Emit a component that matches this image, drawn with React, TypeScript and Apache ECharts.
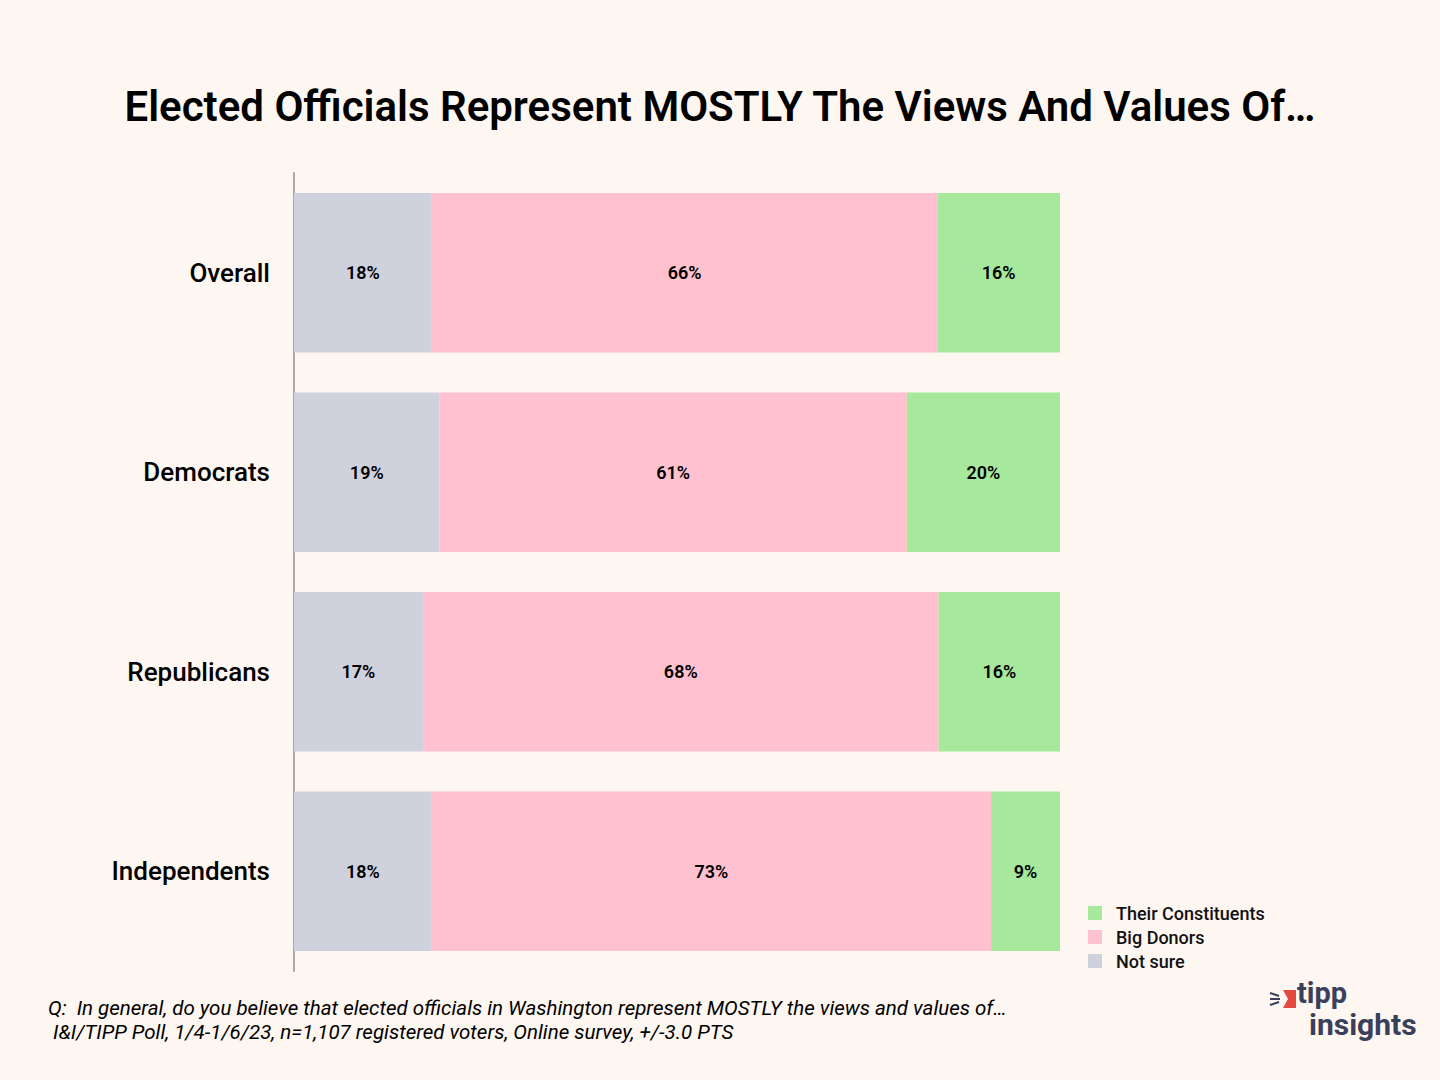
import React, { useEffect, useRef } from "react";
import * as echarts from "echarts";

const categories = ["Overall", "Democrats", "Republicans", "Independents"];
const notSure = [18, 19, 17, 18];
const bigDonors = [66, 61, 68, 73];
const constituents = [16, 20, 16, 9];

const seriesNames = ["Not sure", "Big Donors", "Their Constituents"];
const seriesColors = ["#CFD1DD", "#FFC0CF", "#A6E99C"];

const titleText = "Elected Officials Represent MOSTLY The Views And Values Of…";
const footnote1 = "Q:  In general, do you believe that elected officials in Washington represent MOSTLY the views and values of…";
const footnote2 = " I&I/TIPP Poll, 1/4-1/6/23, n=1,107 registered voters, Online survey, +/-3.0 PTS";

export default function App() {
  const ref = useRef<HTMLDivElement>(null);
  useEffect(() => {
    document.body.style.margin = "0";
    document.body.style.background = "#FEF6F1";
    if (!ref.current) return;
    const chart = echarts.init(ref.current, null, { renderer: "svg" });
    const raw = [notSure, bigDonors, constituents];
    const totals = categories.map((_, i) => raw.reduce((s, a) => s + a[i], 0));
    const font = "Roboto, 'Noto Sans', sans-serif";
    chart.setOption({
      animation: false,
      backgroundColor: "#FEF6F1",
      title: {
        text: titleText,
        left: "center",
        top: 80,
        textStyle: { fontFamily: font, fontSize: 42, fontWeight: 600, color: "#000" },
      },
      grid: { left: 294, width: 766, top: 173, height: 798, containLabel: false },
      legend: {
        orient: "vertical",
        left: 1083,
        top: 899,
        itemWidth: 14,
        itemHeight: 14,
        itemGap: 6,
        icon: "rect",
        data: ["Their Constituents", "Big Donors", "Not sure"],
        textStyle: { fontFamily: font, fontSize: 18, fontWeight: 500, color: "#111", padding: [0, 0, 0, 9] },
      },
      xAxis: {
        type: "value",
        min: 0,
        max: 100,
        show: false,
      },
      yAxis: {
        type: "category",
        data: categories,
        inverse: true,
        axisLine: { show: true, lineStyle: { color: "#A8A8A8", width: 2 } },
        axisTick: { show: false },
        axisLabel: {
          margin: 24,
          fontFamily: font,
          fontSize: 26,
          fontWeight: 500,
          color: "#000",
        },
      },
      series: raw.map((arr, si) => ({
        name: seriesNames[si],
        type: "bar",
        stack: "total",
        barWidth: "80%",
        itemStyle: { color: seriesColors[si] },
        label: {
          show: true,
          position: "inside",
          fontFamily: font,
          fontSize: 18,
          fontWeight: 600,
          color: "#000",
          formatter: (p: any) => arr[p.dataIndex] + "%",
        },
        data: arr.map((v, i) => (v / totals[i]) * 100),
      })),
      graphic: [
        {
          type: "text",
          left: 48,
          top: 998,
          style: { text: footnote1, fontFamily: font, fontSize: 20.5, fontStyle: "italic", fill: "#000" },
        },
        {
          type: "text",
          left: 48,
          top: 1022,
          style: { text: footnote2, fontFamily: font, fontSize: 20.5, fontStyle: "italic", fill: "#000" },
        },
        {
          type: "polygon",
          shape: { points: [[1283, 990], [1296, 990], [1296, 1008], [1283, 1008], [1288, 999]] },
          style: { fill: "#E5493F" },
        },
        {
          type: "line",
          shape: { x1: 1270, y1: 993, x2: 1279, y2: 996 },
          style: { stroke: "#3A3F5C", lineWidth: 2 },
        },
        {
          type: "line",
          shape: { x1: 1270, y1: 999, x2: 1280, y2: 999 },
          style: { stroke: "#3A3F5C", lineWidth: 2 },
        },
        {
          type: "line",
          shape: { x1: 1270, y1: 1005, x2: 1279, y2: 1002 },
          style: { stroke: "#3A3F5C", lineWidth: 2 },
        },
        {
          type: "text",
          left: 1297,
          top: 978,
          style: { text: "tipp", fontFamily: font, fontSize: 29, fontWeight: "bold", fill: "#3A3F5C" },
        },
        {
          type: "text",
          left: 1309,
          top: 1009,
          style: { text: "insights", fontFamily: font, fontSize: 30, fontWeight: "bold", fill: "#3A3F5C" },
        },
      ],
    });
    return () => chart.dispose();
  }, []);
  return <div ref={ref} style={{ width: 1440, height: 1080 }} />;
}
